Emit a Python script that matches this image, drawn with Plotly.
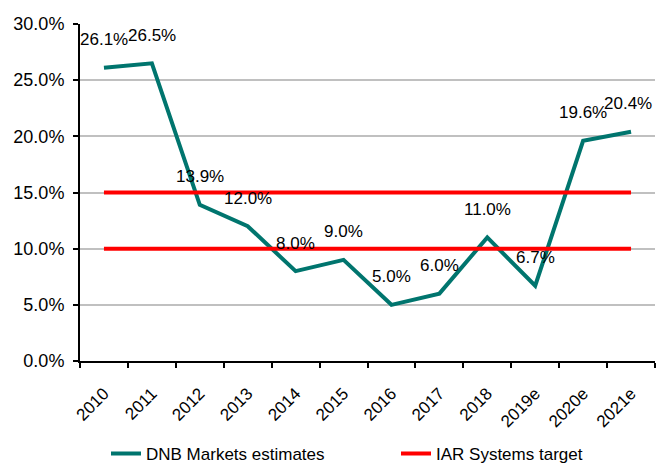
import plotly.graph_objects as go

years = ["2010", "2011", "2012", "2013", "2014", "2015", "2016", "2017", "2018", "2019e", "2020e", "2021e"]
dnb_estimates = [26.1, 26.5, 13.9, 12.0, 8.0, 9.0, 5.0, 6.0, 11.0, 6.7, 19.6, 20.4]
target_low = [10.0] * len(years)
target_high = [15.0] * len(years)

teal = "#00756E"
red = "#FF0000"
font = "Liberation Sans, Arial, sans-serif"

fig = go.Figure()
fig.add_trace(go.Scatter(x=years, y=dnb_estimates, mode="lines", name="DNB Markets estimates",
                         line=dict(color=teal, width=4), legend="legend"))
fig.add_trace(go.Scatter(x=years, y=target_high, mode="lines", name="IAR Systems target",
                         line=dict(color=red, width=4), legend="legend2"))
fig.add_trace(go.Scatter(x=years, y=target_low, mode="lines", name="IAR Systems target",
                         line=dict(color=red, width=4), showlegend=False, legend="legend2"))

# data labels sit above each point (index used since "2010" would be read as a number)
for i, v in enumerate(dnb_estimates):
    fig.add_annotation(x=i, y=v, text=f"{v:.1f}%", showarrow=False, yshift=28,
                       xshift=-3 if i == len(dnb_estimates) - 1 else 0,
                       font=dict(size=17, color="black", family=font))

fig.update_xaxes(type="category", range=[-0.5, 11.5], tickangle=-45, automargin=False,
                 showline=True, linecolor="black", linewidth=2,
                 ticks="outside", tickson="boundaries", ticklen=5, tickcolor="black", tickwidth=2,
                 showgrid=False, ticklabelstandoff=14,
                 tickfont=dict(size=17, color="black", family=font))
fig.update_yaxes(range=[0, 30], dtick=5, ticksuffix="%", tickformat=".1f", automargin=False,
                 showline=True, linecolor="black", linewidth=2,
                 ticks="outside", ticklen=5, tickcolor="black", tickwidth=2,
                 showgrid=True, gridcolor="#C0C0C0", gridwidth=2, zeroline=False,
                 ticklabelstandoff=5,
                 tickfont=dict(size=18, color="black", family=font))

legend_style = dict(orientation="h", xref="container", yref="container",
                    xanchor="left", y=0.024, yanchor="middle",
                    font=dict(size=17, color="black", family=font))

fig.update_layout(
    width=656, height=465,
    margin=dict(l=80, r=1, t=24, b=104),
    plot_bgcolor="white", paper_bgcolor="white",
    showlegend=True,
    legend=dict(x=106 / 656, **legend_style),
    legend2=dict(x=396 / 656, **legend_style),
)

# page body has a default 8px margin that shifts the figure
fig.write_html("out.html", config={"displayModeBar": False},
               post_script="document.body.style.margin = '0';")
